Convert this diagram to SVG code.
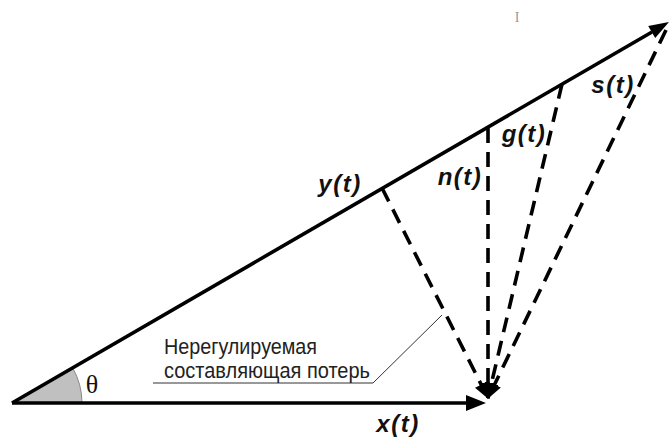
<svg xmlns="http://www.w3.org/2000/svg" width="671" height="437" viewBox="0 0 671 437">
<style>
.vec{stroke:#000;stroke-width:3.6;fill:none}
.dash{stroke:#000;stroke-width:3.6;fill:none;stroke-dasharray:15 9}
.lbl{font-family:"Liberation Sans",Arial,sans-serif;font-weight:bold;font-style:italic;font-size:24px;fill:#111;letter-spacing:1.5px;text-anchor:middle}
.note{font-family:"Liberation Sans",Arial,sans-serif;font-size:22px;fill:#222}
</style>
<defs>
<marker id="ah" viewBox="0 0 16 14" refX="15" refY="7" markerWidth="16" markerHeight="14" markerUnits="userSpaceOnUse" orient="auto">
<path d="M0,0 L16,7 L0,14 Z" fill="#000"/>
</marker>
</defs>
<rect width="671" height="437" fill="#fff"/>
<g id="angle">
<path d="M12,403 L82,403 A70,70 0 0 0 72.6,367.9 Z" fill="#c0c0c0" stroke="#888" stroke-width="1"/>
<text x="92" y="393" font-family="Liberation Serif,serif" font-size="26" fill="#111" text-anchor="middle">θ</text>
</g>
<g id="connectors">
<path class="dash" d="M382,188 L488,398" marker-end="url(#ah)"/>
<path class="dash" d="M488,128 L488,398" marker-end="url(#ah)"/>
<path class="dash" d="M562,84 L488,398" marker-end="url(#ah)"/>
<path class="dash" d="M666,30 L488,398" marker-end="url(#ah)"/>
</g>
<g id="x-vector">
<line class="vec" x1="12" y1="403" x2="468" y2="403"/>
<polygon points="486,403 466,395 466,411" fill="#000"/>
<text class="lbl" x="398" y="432">x(t)</text>
</g>
<g id="y-vector">
<line class="vec" x1="12" y1="403" x2="652" y2="32"/>
<polygon points="669,22 655.2,38.1 648.2,25.9" fill="#000"/>
<text class="lbl" x="340" y="192">y(t)</text>
</g>
<g id="labels">
<text class="lbl" x="460" y="185">n(t)</text>
<text class="lbl" x="524" y="142">g(t)</text>
<text class="lbl" x="613" y="93">s(t)</text>
</g>
<g id="note">
<polyline points="153,383 373,383 442,315" fill="none" stroke="#333" stroke-width="1"/>
<text class="note" x="164" y="354" textLength="153" lengthAdjust="spacingAndGlyphs">Нерегулируемая</text>
<text class="note" x="164" y="378" textLength="206" lengthAdjust="spacingAndGlyphs">составляющая потерь</text>
</g>
<text x="517" y="22" font-family="Liberation Serif,serif" font-size="14" fill="#999" text-anchor="middle">I</text>
</svg>
